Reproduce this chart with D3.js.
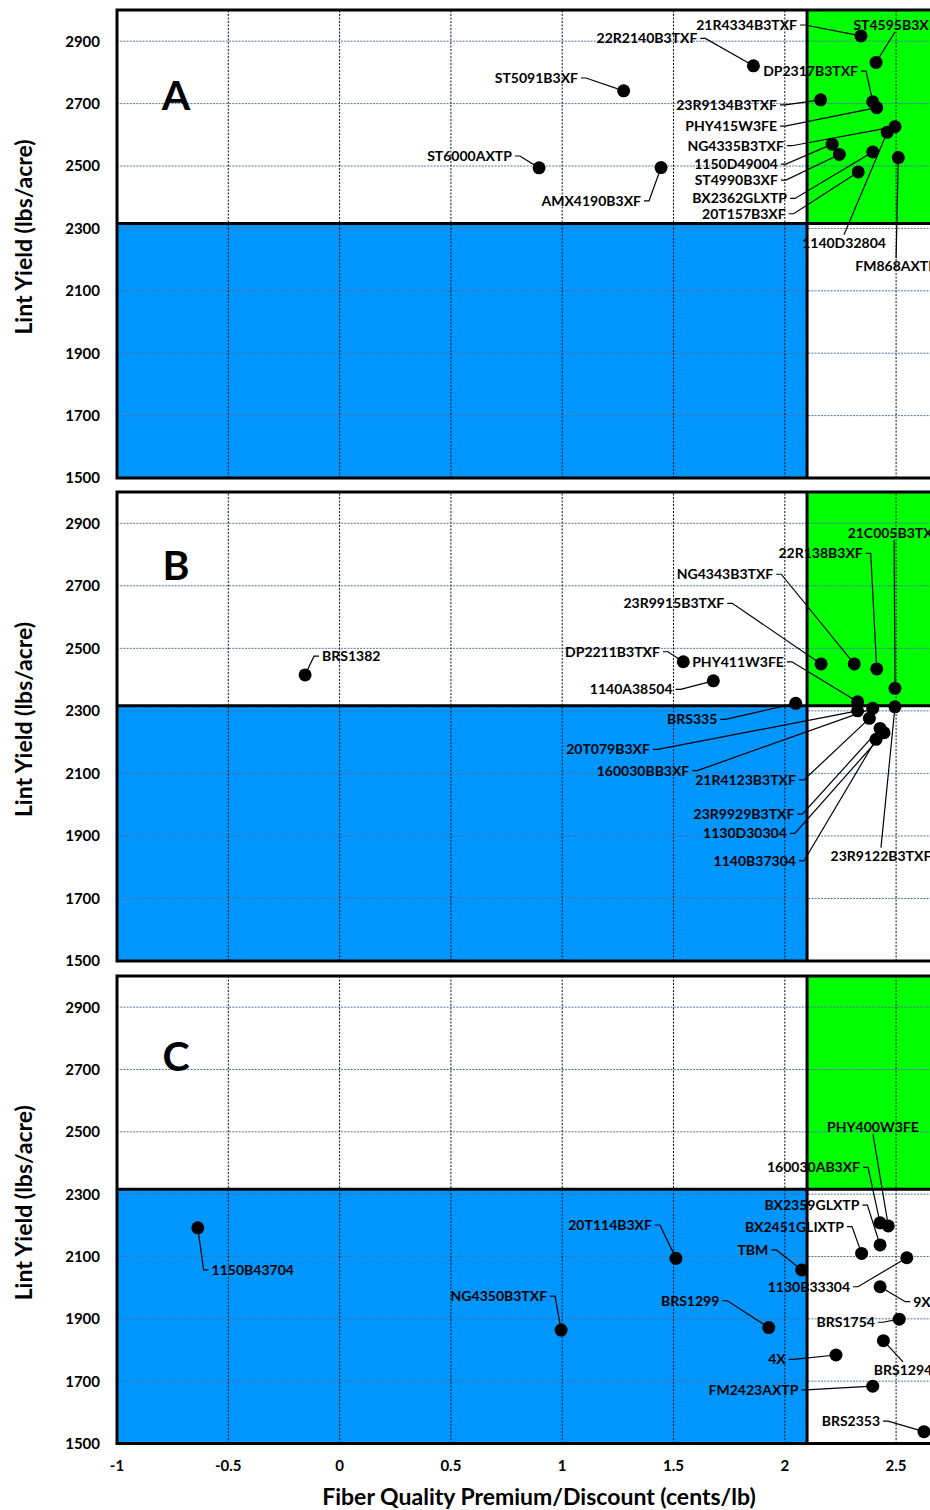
<!DOCTYPE html>
<html><head><meta charset="utf-8">
<script src="https://cdn.jsdelivr.net/npm/d3@7"></script>
<style>
html,body{margin:0;padding:0;background:#fff;}
svg{display:block;}
text{font-family:Lato,"Open Sans",sans-serif;font-weight:700;fill:#000;}
</style></head><body>
<svg id="chart" width="930" height="1510"></svg>
<script>
// ---------- data ----------
const xTicks = [-1, -0.5, 0, 0.5, 1, 1.5, 2, 2.5];
const yTicks = [1500, 1700, 1900, 2100, 2300, 2500, 2700, 2900];
const panelLetters = ["A", "B", "C"];
const meanPremium = 2.1;
const meanYield = 2316;

const namesA = ["21R4334B3TXF","ST4595B3XF","22R2140B3TXF","ST5091B3XF","DP2317B3TXF","PHY415W3FE","23R9134B3TXF","NG4335B3TXF","1140D32804","1150D49004","ST4990B3XF","BX2362GLXTP","20T157B3XF","FM868AXTP","ST6000AXTP","AMX4190B3XF"];
const premiumA = [2.342,2.410,1.859,1.276,2.395,2.413,2.161,2.495,2.460,2.213,2.245,2.395,2.330,2.510,0.896,1.444];
const yieldA = [2917,2832,2821,2741,2706,2687,2712,2626,2608,2570,2537,2545,2481,2527,2494,2495];

const namesB = ["BRS1382","DP2211B3TXF","1140A38504","BRS335","23R9915B3TXF","NG4343B3TXF","22R138B3XF","21C005B3TXF","PHY411W3FE","23R9122B3TXF","20T079B3XF","160030BB3XF","21R4123B3TXF","23R9929B3TXF","1130D30304","1140B37304"];
const premiumB = [-0.155,1.544,1.679,2.049,2.163,2.312,2.413,2.495,2.327,2.495,2.327,2.395,2.380,2.428,2.446,2.410];
const yieldB = [2415,2457,2396,2324,2450,2450,2434,2372,2329,2313,2300,2308,2276,2244,2230,2209];

const namesC = ["PHY400W3FE","160030AB3XF","BX2359GLXTP","BX2451GLIXTP","TBM","20T114B3XF","1130B33304","9X","BRS1299","BRS1754","BRS1294","4X","FM2423AXTP","BRS2353","1150B43704","NG4350B3TXF"];
const premiumC = [2.465,2.428,2.428,2.345,2.076,1.511,2.548,2.428,1.928,2.514,2.443,2.230,2.395,2.625,-0.637,0.995];
const yieldC = [2198,2208,2137,2110,2057,2094,2096,2003,1872,1899,1830,1784,1684,1538,2192,1864];

// ---------- label placement (in data units) ----------
const labelXA = [2.055,2.495,1.607,1.071,2.329,1.965,1.965,1.996,2.266,1.969,1.969,2.010,2.004,2.500,0.774,1.354];
const labelYA = [2952,2952,2909,2782,2804,2628,2696,2565,2254,2506,2455,2396,2347,2179,2532,2388];
const anchorA = ["end","middle","end","end","end","end","end","end","middle","end","end","end","end","middle","end","end"];

const labelXB = [-0.079,1.439,1.496,1.697,1.728,1.948,2.350,2.491,1.996,2.432,1.394,1.571,2.050,2.043,2.009,2.050];
const labelYB = [2475,2489,2369,2273,2644,2737,2804,2870,2457,1837,2177,2109,2079,1970,1908,1820];
const anchorB = ["start","end","end","end","end","end","end","middle","end","middle","end","end","end","end","end","end"];

const labelXC = [2.396,2.338,2.335,2.266,1.926,1.403,2.293,2.577,1.706,2.405,2.531,2.004,2.061,2.428,-0.575,0.932];
const labelYC = [2515,2386,2265,2196,2121,2201,2003,1955,1958,1889,1736,1770,1672,1572,2057,1973];
const anchorC = ["middle","end","end","end","end","end","end","start","end","end","middle","end","end","end","start","end"];

const letterX = -0.735;
const letterY = [2679, 2719, 2695];

// ---------- layout ----------
const W = 930, H = 1510;
const plotLeft = 117, plotRight = 1007.4;
const panelTop = [10, 492, 976];
const panelBottom = [478, 961, 1443.5];
const xDomain = [-1, 3], yDomain = [1500, 3000];

const svg = d3.select("#chart");
svg.append("rect").attr("width", W).attr("height", H).attr("fill", "#fff");

const x = d3.scaleLinear().domain(xDomain).range([plotLeft, plotRight]);

const panelsData = [
  {names: namesA, px: premiumA, py: yieldA, lx: labelXA, ly: labelYA, an: anchorA},
  {names: namesB, px: premiumB, py: yieldB, lx: labelXB, ly: labelYB, an: anchorB},
  {names: namesC, px: premiumC, py: yieldC, lx: labelXC, ly: labelYC, an: anchorC}
];

panelsData.forEach((P, pi) => {
  const y = d3.scaleLinear().domain(yDomain).range([panelBottom[pi], panelTop[pi]]);
  const g = svg.append("g");

  // quadrant fills
  g.append("rect")
    .attr("x", x(meanPremium)).attr("y", y(yDomain[1]))
    .attr("width", x(xDomain[1]) - x(meanPremium))
    .attr("height", y(meanYield) - y(yDomain[1]))
    .attr("fill", "#00ff00");
  g.append("rect")
    .attr("x", x(xDomain[0])).attr("y", y(meanYield))
    .attr("width", x(meanPremium) - x(xDomain[0]))
    .attr("height", y(yDomain[0]) - y(meanYield))
    .attr("fill", "#0096ff");

  // horizontal gridlines
  g.selectAll(".hg").data(yTicks.filter(t => t > yDomain[0])).join("line")
    .attr("x1", x(xDomain[0])).attr("x2", x(xDomain[1]))
    .attr("y1", d => y(d)).attr("y2", d => y(d))
    .attr("stroke", "#4d74a6").attr("stroke-width", 1).attr("stroke-dasharray", "2,1.2");
  // vertical gridlines
  g.selectAll(".vg").data(xTicks.filter(t => t > xDomain[0])).join("line")
    .attr("y1", y(yDomain[0])).attr("y2", y(yDomain[1]))
    .attr("x1", d => x(d)).attr("x2", d => x(d))
    .attr("stroke", "#111").attr("stroke-width", 1).attr("stroke-dasharray", "2,1.5");

  // mean lines
  g.append("line")
    .attr("x1", x(xDomain[0])).attr("x2", x(xDomain[1]))
    .attr("y1", y(meanYield)).attr("y2", y(meanYield))
    .attr("stroke", "#000").attr("stroke-width", 3);
  g.append("line")
    .attr("x1", x(meanPremium)).attr("x2", x(meanPremium))
    .attr("y1", y(yDomain[0])).attr("y2", y(yDomain[1]))
    .attr("stroke", "#000").attr("stroke-width", 3);

  // frame
  g.append("rect")
    .attr("x", x(xDomain[0])).attr("y", y(yDomain[1]))
    .attr("width", x(xDomain[1]) - x(xDomain[0]))
    .attr("height", y(yDomain[0]) - y(yDomain[1]))
    .attr("fill", "none").attr("stroke", "#000").attr("stroke-width", 3);

  // y axis tick labels
  g.selectAll(".yt").data(yTicks).join("text")
    .attr("x", 100).attr("y", d => y(d)).attr("dy", "0.36em")
    .attr("text-anchor", "end").style("font-size", "15px")
    .text(d => d);

  // y axis title
  const cy = (y(yDomain[0]) + y(yDomain[1])) / 2 - 7;
  g.append("text")
    .attr("transform", `translate(32,${cy}) rotate(-90)`)
    .attr("text-anchor", "middle").style("font-size", "23px")
    .text("Lint Yield (lbs/acre)");

  // panel letter
  g.append("text")
    .attr("x", x(letterX)).attr("y", y(letterY[pi]))
    .attr("text-anchor", "middle").style("font-size", "41px")
    .text(panelLetters[pi]);

  // leaders
  const idx = d3.range(P.names.length);
  g.selectAll(".leader").data(idx).join("path")
    .attr("d", i => {
      const lx = x(P.lx[i]), ly = y(P.ly[i]);
      const px = x(P.px[i]), py = y(P.py[i]);
      if (P.an[i] === "end") return `M${lx + 3},${ly}H${lx + 8}L${px},${py}`;
      if (P.an[i] === "start") return `M${lx - 3},${ly}H${lx - 8}L${px},${py}`;
      const sy = py < ly ? ly - 8 : ly + 7;
      return `M${lx},${sy}L${px},${py}`;
    })
    .attr("fill", "none").attr("stroke", "#000").attr("stroke-width", 1.2);

  // markers
  g.selectAll(".pt").data(idx).join("circle")
    .attr("cx", i => x(P.px[i])).attr("cy", i => y(P.py[i]))
    .attr("r", 6.5).attr("fill", "#000");

  // labels
  g.selectAll(".lbl").data(idx).join("text")
    .attr("x", i => x(P.lx[i])).attr("y", i => y(P.ly[i])).attr("dy", "0.36em")
    .attr("text-anchor", i => P.an[i]).style("font-size", "14px")
    .text(i => P.names[i]);
});

// x axis tick labels (bottom panel only)
svg.selectAll(".xt").data(xTicks).join("text")
  .attr("x", d => x(d)).attr("y", 1471)
  .attr("text-anchor", "middle").style("font-size", "15px")
  .text(d => d);

svg.append("text")
  .attr("x", 539).attr("y", 1505)
  .attr("text-anchor", "middle").style("font-size", "23px")
  .text("Fiber Quality Premium/Discount (cents/lb)");
</script>
</body></html>
